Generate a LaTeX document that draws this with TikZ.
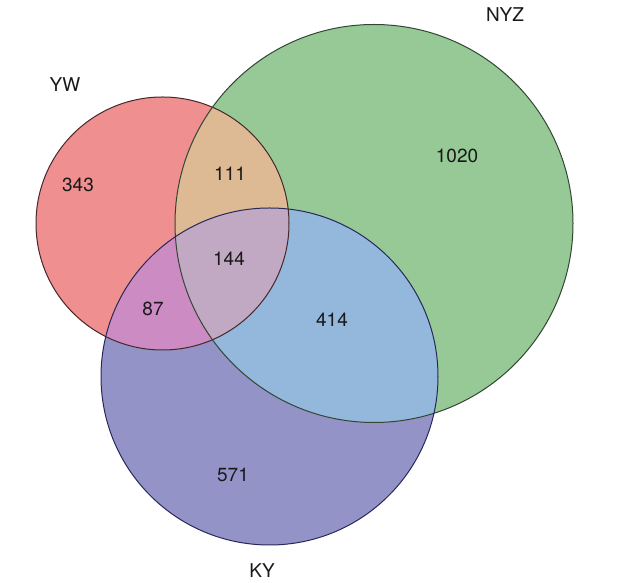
\documentclass[tikz,border=0pt]{standalone}
\usepackage{fontspec}
\setmainfont{TeX Gyre Heros}
\begin{document}
\begin{tikzpicture}[x=1pt,y=1pt,
  lbl/.style={inner sep=0pt,font=\fontsize{19}{22}\selectfont,text=black!90},
  ring/.style={line width=1pt}]
\useasboundingbox (0,0) rectangle (630,583);
% circle geometry (y flipped: 583 - y)
\def\YW{(162.5,359.5) circle (126.5)}
\def\NYZ{(374,359.5) circle (199)}
\def\KY{(269.5,206.5) circle (168.5)}
% single regions
\fill[fill={rgb,255:red,239;green,143;blue,143}] \YW;
\fill[fill={rgb,255:red,151;green,201;blue,151}] \NYZ;
\fill[fill={rgb,255:red,147;green,147;blue,200}] \KY;
% pairwise
\begin{scope}\clip \YW; \fill[fill={rgb,255:red,221;green,185;blue,148}] \NYZ; \end{scope}
\begin{scope}\clip \NYZ; \fill[fill={rgb,255:red,148;green,184;blue,220}] \KY; \end{scope}
\begin{scope}\clip \YW; \fill[fill={rgb,255:red,205;green,139;blue,196}] \KY; \end{scope}
% triple
\begin{scope}\clip \YW; \clip \NYZ; \fill[fill={rgb,255:red,194;green,169;blue,195}] \KY; \end{scope}
% outlines
\draw[ring,draw={rgb,255:red,70;green,40;blue,40}] \YW;
\draw[ring,draw={rgb,255:red,50;green,70;blue,50}] \NYZ;
\draw[ring,draw={rgb,255:red,40;green,40;blue,90}] \KY;
% labels
\node[lbl] (yw) at (65,498) {YW};
\node[lbl] (nyz) at (505,568) {NYZ};
\node[lbl] (ky) at (262,12) {KY};
\node[lbl] (n343) at (78,398) {343};
\node[lbl] (n111) at (230,409) {111};
\node[lbl] (n1020) at (457,427) {1020};
\node[lbl] (n144) at (229,324) {144};
\node[lbl] (n87) at (153,274) {87};
\node[lbl] (n414) at (332,263) {414};
\node[lbl] (n571) at (233,108) {571};
\end{tikzpicture}
\end{document}
